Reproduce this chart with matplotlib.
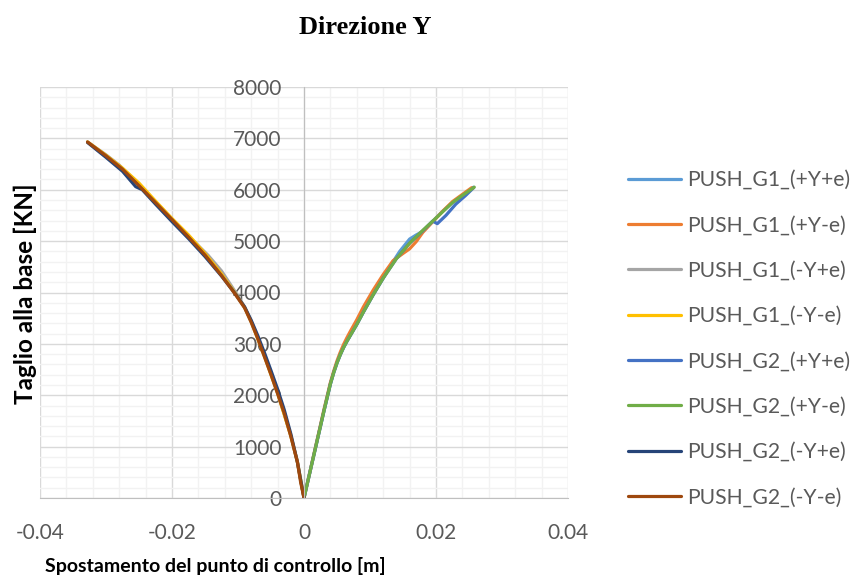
import matplotlib
matplotlib.use("Agg")
import matplotlib.pyplot as plt
import numpy as np

# Curve data (displacement [m], base shear [KN])
g1_pYpe_x = [0, 0.001, 0.002, 0.003, 0.004, 0.0045, 0.005, 0.0055, 0.006, 0.0065, 0.007, 0.008, 0.009, 0.0105, 0.012, 0.013, 0.0145, 0.016, 0.017, 0.018, 0.0196, 0.021, 0.0225, 0.024, 0.0257]
g1_pYpe_y = [0, 560, 1120, 1680, 2220, 2440, 2630, 2790, 2930, 3050, 3160, 3380, 3620, 3960, 4280, 4500, 4800, 5040, 5120, 5190, 5400, 5580, 5750, 5890, 6050]

g1_pYme_x = [0, 0.001, 0.002, 0.003, 0.004, 0.0045, 0.005, 0.0055, 0.006, 0.0065, 0.007, 0.008, 0.009, 0.0105, 0.012, 0.0135, 0.015, 0.016, 0.017, 0.018, 0.0196, 0.021, 0.0225, 0.024, 0.0254]
g1_pYme_y = [0, 570, 1140, 1710, 2250, 2470, 2670, 2840, 2990, 3120, 3240, 3470, 3720, 4050, 4350, 4620, 4760, 4850, 4990, 5170, 5390, 5580, 5770, 5910, 6040]

g1_mYpe_x = [0, -0.001, -0.002, -0.004, -0.006, -0.008, -0.009, -0.0105, -0.0125, -0.0145, -0.0175, -0.020, -0.0225, -0.025, -0.028, -0.030, -0.0328]
g1_mYpe_y = [0, 700, 1220, 2050, 2780, 3440, 3720, 4030, 4420, 4720, 5100, 5430, 5760, 6100, 6480, 6680, 6930]

g1_mYme_x = [0, -0.001, -0.002, -0.004, -0.006, -0.008, -0.009, -0.0105, -0.0125, -0.015, -0.0175, -0.020, -0.0225, -0.025, -0.0275, -0.030, -0.0328]
g1_mYme_y = [0, 700, 1210, 2040, 2760, 3430, 3710, 4000, 4360, 4760, 5120, 5440, 5780, 6130, 6420, 6670, 6930]

g2_pYpe_x = [0, 0.001, 0.002, 0.003, 0.004, 0.0045, 0.005, 0.0055, 0.006, 0.0065, 0.007, 0.008, 0.009, 0.0105, 0.012, 0.014, 0.016, 0.018, 0.0195, 0.0202, 0.0215, 0.023, 0.0245, 0.0257]
g2_pYpe_y = [0, 560, 1120, 1680, 2220, 2440, 2630, 2790, 2930, 3050, 3160, 3380, 3620, 3960, 4280, 4660, 4960, 5200, 5390, 5340, 5500, 5720, 5890, 6040]

g2_pYme_x = [0, 0.001, 0.002, 0.003, 0.004, 0.0045, 0.005, 0.0055, 0.006, 0.0065, 0.007, 0.008, 0.009, 0.0105, 0.012, 0.014, 0.016, 0.018, 0.0196, 0.021, 0.0225, 0.024, 0.0258]
g2_pYme_y = [0, 560, 1120, 1680, 2220, 2440, 2630, 2790, 2930, 3050, 3160, 3380, 3620, 3960, 4280, 4660, 4960, 5210, 5400, 5570, 5750, 5890, 6050]

g2_mYpe_x = [0, -0.001, -0.002, -0.003, -0.004, -0.005, -0.006, -0.007, -0.008, -0.009, -0.0105, -0.0125, -0.015, -0.0175, -0.020, -0.0225, -0.0245, -0.0255, -0.0275, -0.030, -0.0328]
g2_mYpe_y = [0, 700, 1250, 1720, 2120, 2480, 2830, 3160, 3460, 3720, 3990, 4320, 4700, 5050, 5380, 5720, 6000, 6060, 6360, 6630, 6920]

g2_mYme_x = [0, -0.0005, -0.0010, -0.002, -0.003, -0.004, -0.005, -0.006, -0.007, -0.008, -0.009, -0.0105, -0.0125, -0.015, -0.0175, -0.020, -0.0225, -0.025, -0.0275, -0.030, -0.0328]
g2_mYme_y = [0, 300, 700, 1200, 1650, 2030, 2400, 2750, 3100, 3420, 3700, 3980, 4330, 4730, 5080, 5420, 5750, 6080, 6400, 6660, 6930]

labels = ["PUSH_G1_(+Y+e)", "PUSH_G1_(+Y-e)", "PUSH_G1_(-Y+e)", "PUSH_G1_(-Y-e)",
          "PUSH_G2_(+Y+e)", "PUSH_G2_(+Y-e)", "PUSH_G2_(-Y+e)", "PUSH_G2_(-Y-e)"]
colors = ["#5B9BD5", "#ED7D31", "#A5A5A5", "#FFC000",
          "#4472C4", "#70AD47", "#264478", "#9E480E"]

x_ticks = [-0.04, -0.02, 0, 0.02, 0.04]
x_tick_labels = ["-0.04", "-0.02", "0", "0.02", "0.04"]
y_ticks = [0, 1000, 2000, 3000, 4000, 5000, 6000, 7000, 8000]

series = [
    (g1_pYpe_x, g1_pYpe_y), (g1_pYme_x, g1_pYme_y),
    (g1_mYpe_x, g1_mYpe_y), (g1_mYme_x, g1_mYme_y),
    (g2_pYpe_x, g2_pYpe_y), (g2_pYme_x, g2_pYme_y),
    (g2_mYpe_x, g2_mYpe_y), (g2_mYme_x, g2_mYme_y),
]

plt.rcParams['font.family'] = ['Lato', 'DejaVu Sans']

fig = plt.figure(figsize=(8.54, 5.81), dpi=100)
ax = fig.add_axes([40/854, 1 - 498/581, 528/854, 411/581])

for (xs, ys), lab, col in zip(series, labels, colors):
    ax.plot(xs, ys, color=col, lw=2.3, label=lab, solid_capstyle='round',
            solid_joinstyle='round')

ax.set_xlim(-0.04, 0.04)
ax.set_ylim(0, 8000)
ax.set_xticks(x_ticks)
ax.set_xticklabels(x_tick_labels)
ax.set_yticks(y_ticks)
ax.set_xticks(np.arange(-0.04, 0.0401, 0.004), minor=True)
ax.set_yticks(np.arange(0, 8001, 200), minor=True)

ax.set_axisbelow(True)
ax.grid(which='minor', color='#F2F2F2', lw=1)
ax.grid(which='major', color='#D9D9D9', lw=1)

for s in ['top', 'right']:
    ax.spines[s].set_visible(False)
ax.spines['left'].set_position(('data', 0))
ax.spines['left'].set_color('#BFBFBF')
ax.spines['bottom'].set_color('#BFBFBF')
ax.tick_params(which='both', length=0)
ax.tick_params(axis='y', labelsize=15, labelcolor='#595959', pad=16)
ax.tick_params(axis='x', labelsize=15, labelcolor='#595959', pad=18)

fig.text(365/854, 1 - 28/581, "Direzione Y", ha='center', va='center',
         fontsize=19, fontweight='bold', family='Liberation Serif')
fig.text(25/854, 1 - 294/581, "Taglio alla base [KN]", ha='center', va='center',
         rotation=90, fontsize=17.5, fontweight='bold')
fig.text(215/854, 1 - 566/581, "Spostamento del punto di controllo [m]", ha='center', va='center',
         fontsize=14, fontweight='bold')

leg = fig.legend(loc='upper left', bbox_to_anchor=(628/854, 1 - 170/581),
                 frameon=False, fontsize=15.2, handlelength=2.5, handletextpad=0.28,
                 labelspacing=1.2, borderpad=0, borderaxespad=0)
for t in leg.get_texts():
    t.set_color('#595959')

fig.savefig("out.png", dpi=100)
